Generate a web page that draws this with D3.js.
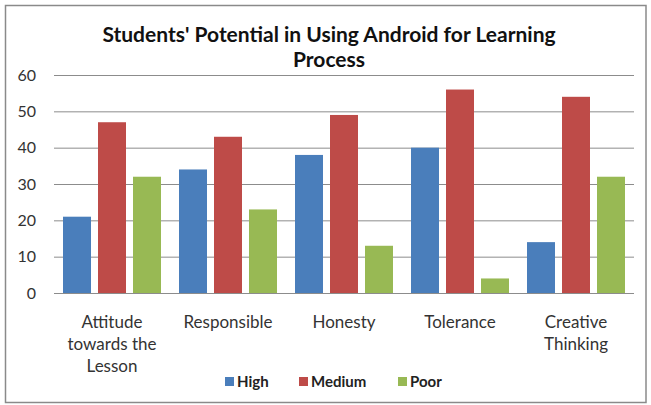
<!doctype html>
<html>
<head>
<script src="https://d3js.org/d3.v7.min.js"></script>
<style>
  body { margin: 0; background: #fff; }
  text { font-family: Lato, "Open Sans", sans-serif; fill: #222; }
  .grid line { stroke: #8c8c8c; stroke-width: 1; }
  .grid path { stroke-width: 0; }
  .yaxis path, .yaxis line { display: none; }
  .yaxis text { font-size: 16px; fill: #333; }
  .cat { font-size: 17px; fill: #333; }
  .title { font-size: 21px; font-weight: 700; fill: #111; }
  .legend text { font-size: 15px; font-weight: 700; fill: #222; }
</style>
</head>
<body>
<svg id="chart" width="651" height="405"></svg>
<script>
  const categories = [["Attitude", "towards the", "Lesson"], ["Responsible"], ["Honesty"], ["Tolerance"], ["Creative", "Thinking"]];
  const seriesNames = ["High", "Medium", "Poor"];
  const high = [21, 34, 38, 40, 14];
  const medium = [47, 43, 49, 56, 54];
  const poor = [32, 23, 13, 4, 32];
  const yTicks = [0, 10, 20, 30, 40, 50, 60];
  const colors = ["#4a7ebb", "#be4b48", "#98b954"];

  const series = [high, medium, poor];
  const svg = d3.select('#chart');

  // outer frame
  svg.append('rect')
    .attr('x', 5.5).attr('y', 5.5)
    .attr('width', 640.5).attr('height', 397)
    .attr('fill', 'none').attr('stroke', '#8a8a8a').attr('stroke-width', 1.5);

  const plotL = 54, plotR = 634, plotT = 75, plotB = 293;
  const y = d3.scaleLinear().domain([0, 60]).range([plotB, plotT]);
  const x0 = d3.scaleBand().domain(d3.range(categories.length)).range([plotL, plotR]);
  const x1 = d3.scaleBand().domain(seriesNames).range([9, x0.bandwidth() - 9]).paddingInner(0.2);

  svg.append('g')
    .attr('class', 'grid')
    .attr('transform', `translate(${plotL},0)`)
    .call(d3.axisLeft(y).tickValues(yTicks).tickSize(-(plotR - plotL)).tickFormat(''));

  svg.append('g')
    .attr('class', 'yaxis')
    .attr('transform', `translate(36,0)`)
    .call(d3.axisLeft(y).tickValues(yTicks).tickSize(0).tickPadding(0));

  const groups = svg.selectAll('g.cat-group')
    .data(categories)
    .enter().append('g')
    .attr('class', 'cat-group')
    .attr('transform', (d, i) => `translate(${x0(i)},0)`);

  groups.selectAll('rect')
    .data((d, i) => seriesNames.map((s, k) => ({ s: s, k: k, v: series[k][i] })))
    .enter().append('rect')
    .attr('x', d => x1(d.s))
    .attr('y', d => y(d.v))
    .attr('width', x1.bandwidth())
    .attr('height', d => plotB - y(d.v))
    .attr('fill', d => colors[d.k]);

  groups.each(function (lines) {
    const t = d3.select(this).append('text')
      .attr('class', 'cat')
      .attr('text-anchor', 'middle')
      .attr('x', x0.bandwidth() / 2)
      .attr('y', 328);
    lines.forEach((l, j) => {
      t.append('tspan').attr('x', x0.bandwidth() / 2).attr('dy', j === 0 ? 0 : 22).text(l);
    });
  });

  const title = svg.append('text').attr('class', 'title').attr('text-anchor', 'middle');
  title.append('tspan').attr('x', 329).attr('y', 42).text("Students' Potential in Using Android for Learning");
  title.append('tspan').attr('x', 329).attr('y', 67).text('Process');

  const legendX = [225, 299, 398];
  const legend = svg.append('g').attr('class', 'legend');
  seriesNames.forEach((s, k) => {
    legend.append('rect')
      .attr('x', legendX[k]).attr('y', 377)
      .attr('width', 9).attr('height', 9)
      .attr('fill', colors[k]);
    legend.append('text')
      .attr('x', legendX[k] + 12).attr('y', 387)
      .text(s);
  });
</script>
</body>
</html>
